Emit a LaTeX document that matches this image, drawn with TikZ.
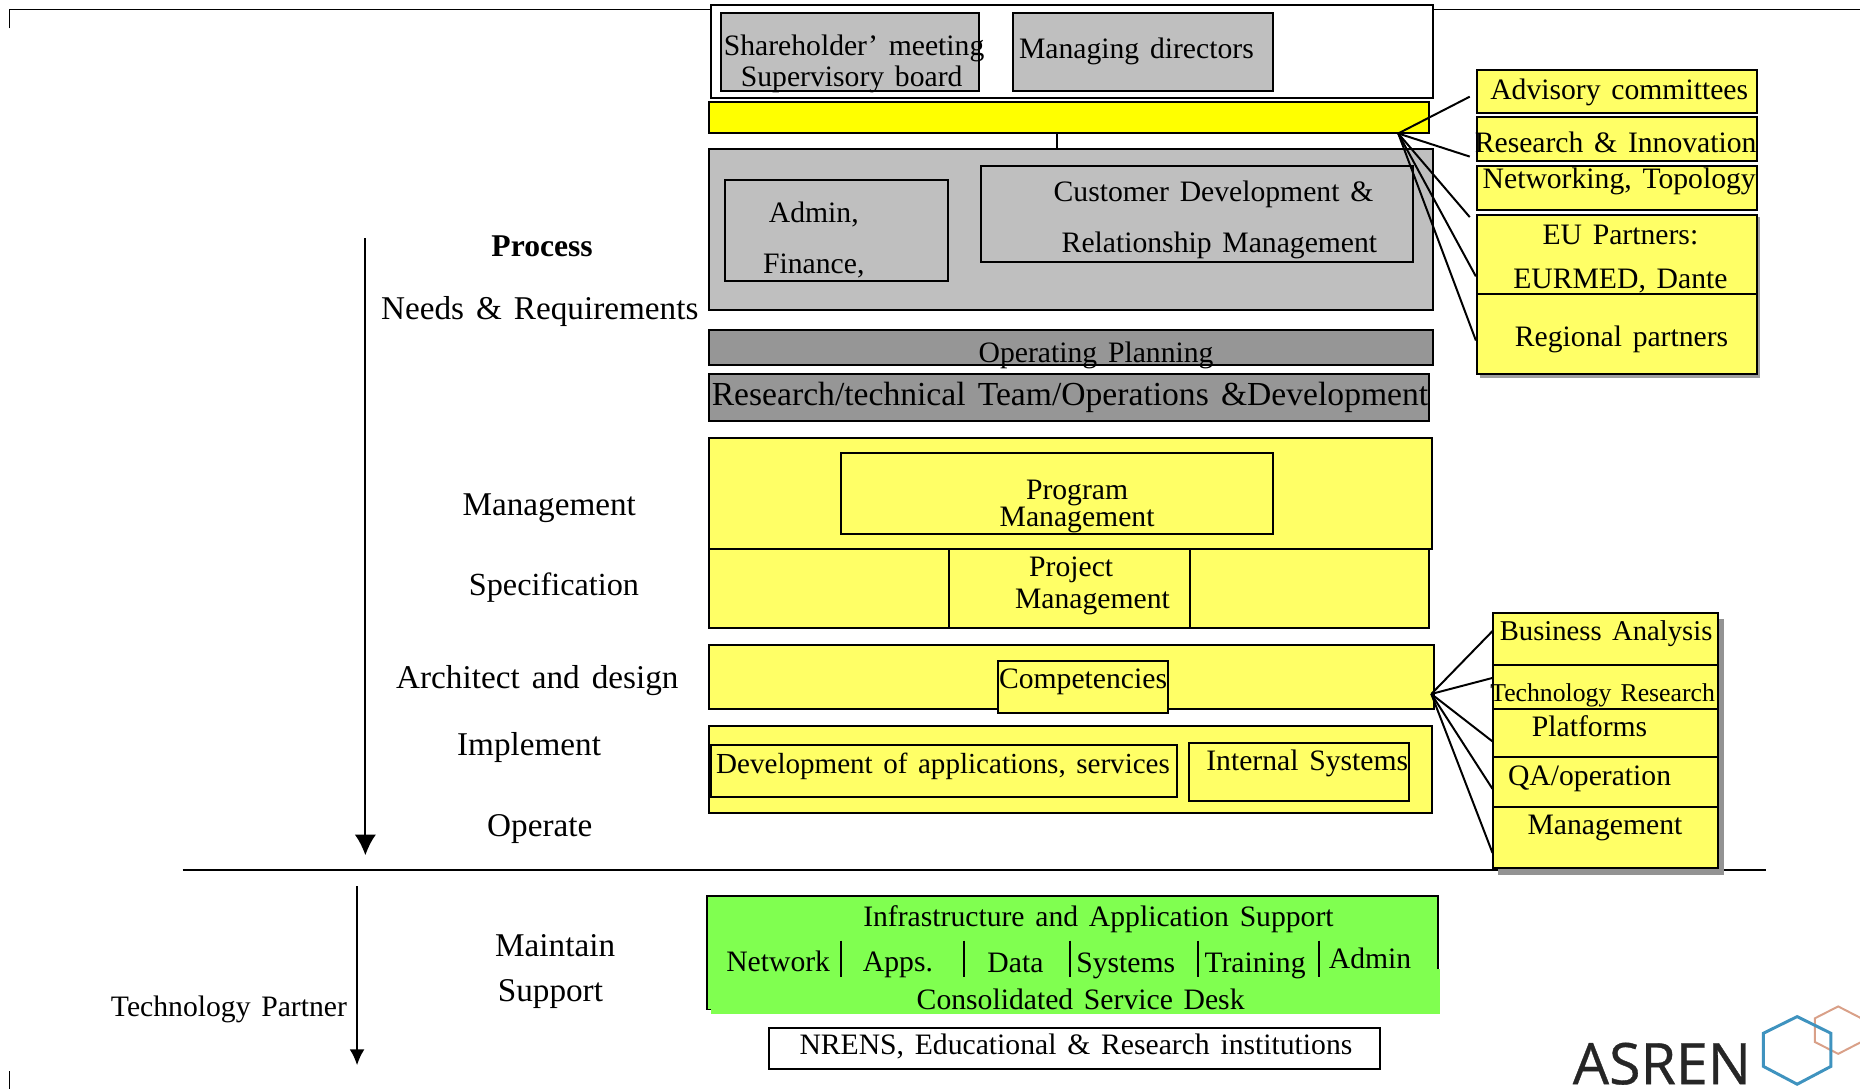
\documentclass[tikz,border=0pt]{standalone}
\usepackage{fontspec}
\setmainfont[WordSpace=1.45]{Liberation Serif}
\newfontfamily\logofont[FakeBold=0.6]{Open Sans}
\usepackage{tikz}
\usetikzlibrary{positioning,arrows.meta}
\definecolor{barYellow}{HTML}{FFFF00}
\definecolor{paleYellow}{HTML}{FFFF66}
\definecolor{panelGray}{HTML}{BFBFBF}
\definecolor{planGray}{HTML}{969696}
\definecolor{supportGreen}{HTML}{80FF50}
\definecolor{hexBlue}{HTML}{3F93BF}
\definecolor{hexOrange}{HTML}{D9A088}
\tikzset{
	sz/.style 2 args={minimum width=#1*0.6pt, minimum height=#2*0.6pt},
	box/.style={draw, line width=1pt, inner sep=0pt},
	txt/.style={inner sep=0pt, yshift=-2.4pt, font=\fontsize{15}{18}\selectfont, text height=0.7em, text depth=0.2em},
	lefttxt/.style={txt, yshift=-0.6pt, font=\fontsize{16.8}{20}\selectfont},
	link/.style={line width=1pt},
	flow/.style 2 args={line width=1pt, -{Latex[length=#1,width=#2]}}
}
\begin{document}
\begin{tikzpicture}
[x=0.6pt, y=-0.6pt]
\useasboundingbox (0,0) rectangle (1568,918);

% outer frame
\coordinate (fa) at (8,24);
\coordinate (fb) at (8,8);
\coordinate (fc) at (1568,8);
\coordinate (fd) at (8,903);
\coordinate (fe) at (8,918);
\draw[link] (fa) -- (fb) -- (fc);
\draw[link] (fd) -- (fe);

% governance
\node (board)[box, fill=white, sz={609}{79}] at (903.5,43.5) {};
\node (share)[box, fill=panelGray, sz={217}{66}] at (716.5,44) {};
\node (direct)[box, fill=panelGray, sz={219}{66}] at (963.5,44) {};
\node (sharet1)[txt] at (720,39) {Shareholder’ meeting};
\node (sharet2)[txt] at (718,65) {Supervisory board};
\node (directt)[txt] at (958,41) {Managing directors};
\node (bar)[box, fill=barYellow, sz={607}{26}] at (901.5,99) {};

\node (panel)[box, fill=panelGray, sz={610}{135}] at (903,193.5) {};
\node (admin)[box, fill=panelGray, sz={188}{85}] at (705,194.5) {};
\node (custom)[box, fill=panelGray, sz={364}{81}] at (1009,180.5) {};
\node (admint1)[txt] at (686,179) {Admin,};
\node (admint2)[txt] at (686,222) {Finance,};
\node (customt1)[txt] at (1023,162) {Customer Development \&};
\node (customt2)[txt] at (1028,205) {Relationship Management};
\coordinate (barstem) at (bar.south -| 891,0);
\coordinate (panelstem) at (panel.north -| 891,0);
\draw[link] (barstem) -- (panelstem);

\node (oper)[box, fill=planGray, sz={610}{30}] at (903,293) {};
\node (opert)[txt] at (924,297) {Operating Planning};
\node (team)[box, fill=planGray, sz={607}{40}] at (901.5,335) {};
\node (teamt)[txt, font=\fontsize{17}{20}\selectfont] at (902,334) {Research/technical Team/Operations \&Development};

% right side, top group
\node (upshadow)[fill=gray!75, sz={236}{136}, inner sep=0pt] at (1366,251) {};
\node (advis)[box, fill=paleYellow, sz={236}{36}] at (1363,77) {};
\node (resin)[box, fill=paleYellow, sz={236}{37}] at (1363,117.5) {};
\node (netw)[box, fill=paleYellow, sz={236}{37}] at (1363,158.5) {};
\node (eupart)[box, fill=paleYellow, sz={236}{67}] at (1363,214.5) {};
\node (regio)[box, fill=paleYellow, sz={236}{67}] at (1363,281.5) {};
\node (advist)[txt] at (1365,76) {Advisory committees};
\node (resint)[txt] at (1362,120) {Research \& Innovation};
\node (netwt)[txt] at (1365,151) {Networking, Topology};
\node (eupartt1)[txt] at (1366,198) {EU Partners:};
\node (eupartt2)[txt] at (1366,235) {EURMED, Dante};
\node (regiot)[txt] at (1367,284) {Regional partners};

\coordinate (hubup) at (1178.7,112.5);
\coordinate (upa) at (1239,81.5);
\coordinate (upb) at (1239,132);
\coordinate (upc) at (1239,183);
\coordinate (upd) at (eupart.west |- 0,233);
\coordinate (upe) at (regio.west |- 0,287);
\draw[link] (hubup) -- (upa);
\draw[link] (hubup) -- (upb);
\draw[link] (hubup) -- (upc);
\draw[link] (hubup) -- (upd);
\draw[link] (hubup) -- (upe);

% centre stack
\node (manag)[box, fill=paleYellow, sz={609}{94}] at (902.5,416) {};
\node (progr)[box, fill=paleYellow, sz={364}{68}] at (891,416) {};
\node (progrt)[txt, align=center, text height=, text depth=, font=\fontsize{15}{14}\selectfont] at (908,423) {Program\\Management};
\node (spec)[box, fill=paleYellow, sz={607}{66}] at (901.5,496) {};
\node (proj)[box, fill=paleYellow, sz={203}{66}] at (901.5,496) {};
\node (projt1)[txt] at (903,478) {Project};
\node (projt2)[txt] at (921,505) {Management};
\node (compb)[box, fill=paleYellow, sz={611}{54}] at (903.5,571) {};
\node (compe)[box, fill=paleYellow, sz={144}{44}] at (913,579) {};
\node (compt)[txt] at (913,572) {Competencies};
\node (devb)[box, fill=paleYellow, sz={609}{73}] at (902.5,648.5) {};
\node (devap)[box, fill=paleYellow, sz={393}{44}] at (795.5,650) {};
\node (inter)[box, fill=paleYellow, sz={186}{49}] at (1095,650.5) {};
\node (devapt)[txt, font=\fontsize{14.7}{18}\selectfont] at (795,644) {Development of applications, services};
\node (intert)[txt] at (1102,641) {Internal Systems};

% divider
\coordinate (dva) at (154,733);
\coordinate (dvb) at (1489,733);
\draw[link] (dva) -- (dvb);

% right side, bottom group
\node (lowshadow)[fill=gray!85, sz={190}{216}, inner sep=0pt] at (1358,629.5) {};
\node (busin)[box, fill=paleYellow, sz={189}{44}] at (1353.5,539) {};
\node (techn)[box, fill=paleYellow, sz={189}{37}] at (1353.5,579.5) {};
\node (platf)[box, fill=paleYellow, sz={189}{40}] at (1353.5,618) {};
\node (qaop)[box, fill=paleYellow, sz={189}{42}] at (1353.5,659) {};
\node (mngt)[box, fill=paleYellow, sz={189}{52}] at (1353.5,706) {};
\node (busint)[txt, font=\fontsize{14.5}{18}\selectfont] at (1354,532) {Business Analysis};
\node (techt)[txt, font=\fontsize{13}{16}\selectfont] at (1351,583) {Technology Research};
\node (platft)[txt] at (1340,613) {Platforms};
\node (qaopt)[txt] at (1340,654) {QA/operation};
\node (mngtt)[txt] at (1353,695) {Management};

\coordinate (hublow) at (1206.6,585);
\coordinate (lowa) at (busin.west |- 0,532);
\coordinate (lowb) at (techn.west |- 0,571.5);
\coordinate (lowc) at (platf.west |- 0,625);
\coordinate (lowd) at (qaop.west |- 0,665);
\coordinate (lowe) at (mngt.west |- 0,719);
\draw[link] (hublow) -- (lowa);
\draw[link] (hublow) -- (lowb);
\draw[link] (hublow) -- (lowc);
\draw[link] (hublow) -- (lowd);
\draw[link] (hublow) -- (lowe);

% support
\node (supp)[box, fill=supportGreen, sz={616}{96}] at (904,803) {};
\node (suppatch)[fill=supportGreen, sz={614}{38}, inner sep=0pt] at (906.5,836) {};
\node (infra)[txt] at (926,773) {Infrastructure and Application Support};
\node (netk)[txt] at (656,811) {Network};
\node (apps)[txt] at (757,811) {Apps.};
\node (dataa)[txt] at (856,812) {Data};
\node (syst)[txt] at (949,812) {Systems};
\node (train)[txt] at (1058,812) {Training};
\node (adm)[txt] at (1155,808) {Admin};
\node (desk)[txt] at (911,843) {Consolidated Service Desk};
\coordinate (sepa) at (708.7,793);
\coordinate (sepb) at (708.7,824);
\coordinate (sepc) at (813,793);
\coordinate (sepd) at (813,824);
\coordinate (sepe) at (902,793);
\coordinate (sepf) at (902,824);
\coordinate (sepg) at (1010,793);
\coordinate (seph) at (1010,824);
\coordinate (sepi) at (1112,793);
\coordinate (sepj) at (1112,824);
\draw[link] (sepa) -- (sepb);
\draw[link] (sepc) -- (sepd);
\draw[link] (sepe) -- (sepf);
\draw[link] (sepg) -- (seph);
\draw[link] (sepi) -- (sepj);
\node (nrens)[box, fill=white, sz={515}{34}] at (905.5,884) {};
\node (nrenst)[txt] at (907,881) {NRENS, Educational \& Research institutions};

% process column
\coordinate (flowa) at (308,201);
\coordinate (flowb) at (308,721);
\coordinate (flowc) at (301,747);
\coordinate (flowd) at (301,898);
\draw[flow={10.5pt}{10.8pt}] (flowa) -- (flowb);
\draw[flow={8pt}{7.5pt}] (flowc) -- (flowd);
\node (proc)[txt, font=\bfseries\fontsize{16}{18}\selectfont] at (457,208) {Process};
\node (needs)[lefttxt] at (455,260) {Needs \& Requirements};
\node (mgmt)[lefttxt] at (463,425) {Management};
\node (specf)[lefttxt, font=\fontsize{16.3}{20}\selectfont] at (467,493) {Specification};
\node (archi)[lefttxt] at (453,571) {Architect and design};
\node (impl)[lefttxt] at (446,628) {Implement};
\node (operat)[lefttxt] at (455,696) {Operate};
\node (maint)[lefttxt] at (468,797) {Maintain};
\node (suppo)[lefttxt] at (464,835) {Support};
\node (techp)[txt] at (193,849) {Technology Partner};

% logo
\draw[hexOrange, line width=1pt] (1549.6,848.4) -- (1569,858.4) -- (1569,878.4) -- (1549.6,888.4) -- (1530,878.4) -- (1530,858.4) -- cycle;
\draw[hexBlue, line width=1.5pt] (1515,857) -- (1543.4,871) -- (1543.4,899) -- (1515,914) -- (1486.6,899) -- (1486.6,871) -- cycle;
\node (asren)[inner sep=0pt, font=\logofont\fontsize{29}{30}\selectfont, text=black!85, anchor=base] at (1401,914) {ASREN};
\end{tikzpicture}
\end{document}
